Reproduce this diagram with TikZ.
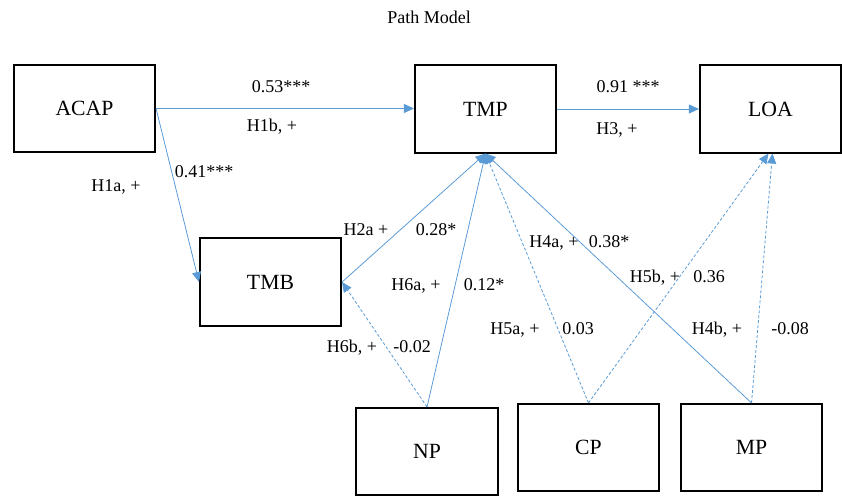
\documentclass[tikz,border=0pt]{standalone}
\usepackage{fontspec}
\setmainfont{Liberation Serif}
\usetikzlibrary{arrows.meta}
\definecolor{linkblue}{HTML}{5B9BD5}
\begin{document}
\begin{tikzpicture}[x=1pt,y=-1pt,
  box/.style={draw=black, line width=1.6pt, minimum width=141.5pt,
    minimum height=87.5pt, inner sep=0pt, font=\fontsize{21.7}{24}\selectfont},
  lbl/.style={anchor=base, inner sep=0pt, font=\fontsize{18}{20}\selectfont},
  link/.style={draw=linkblue, line width=0.8pt,
    -{Triangle[length=10pt,width=9pt]}},
  dashlink/.style={link, dash pattern=on 3pt off 2pt}]
\useasboundingbox (0,0) rectangle (842,495);

% title
\node[lbl] (title) at (429,24) {Path Model};

% constructs
\node[box] (ACAP) at (84.5,108.5) {ACAP};
\node[box] (TMP)  at (485.5,109)  {TMP};
\node[box] (LOA)  at (770.5,109)  {LOA};
\node[box] (TMB)  at (270.5,282)  {TMB};
\node[box] (NP)   at (427,451.5)  {NP};
\node[box] (CP)   at (588.5,447.5) {CP};
\node[box] (MP)   at (751.5,447.5) {MP};

% paths
\draw[link] (ACAP.east) -- (ACAP.east -| TMP.west);
\draw[link] (TMP.east) -- (TMP.east -| LOA.west);
\draw[link] (ACAP.east) -- (TMB.west);
\draw[link] (TMB.east) -- (TMP.south);
\draw[link] (NP.north) -- (TMP.south);
\draw[dashlink] (NP.north) -- (TMB.east);
\draw[dashlink] (CP.north) -- (TMP.south);
\draw[dashlink] (CP.north) -- ([xshift=-2pt]LOA.south);
\draw[link] (MP.north) -- (TMP.south);
\draw[dashlink] (MP.north) -- ([xshift=2pt]LOA.south);

% coefficients and hypotheses
\node[lbl] (c1b) at (281,92)  {0.53***};
\node[lbl] (h1b) at (272,131) {H1b, +};
\node[lbl] (c3)  at (628,92)  {0.91 ***};
\node[lbl] (h3)  at (617,134) {H3, +};
\node[lbl] (h1a) at (116,191) {H1a, +};
\node[lbl] (c1a) at (204,177) {0.41***};
\node[lbl] (h2a) at (366,235) {H2a +};
\node[lbl] (c2a) at (436,235) {0.28*};
\node[lbl] (h6a) at (416,290) {H6a, +};
\node[lbl] (c6a) at (484,290) {0.12*};
\node[lbl] (h6b) at (352,352) {H6b, +};
\node[lbl] (c6b) at (412,352) {-0.02};
\node[lbl] (h4a) at (554,247) {H4a, +};
\node[lbl] (c4a) at (609,247) {0.38*};
\node[lbl] (h5b) at (655,282) {H5b, +};
\node[lbl] (c5b) at (709,282) {0.36};
\node[lbl] (h5a) at (515,334) {H5a, +};
\node[lbl] (c5a) at (578,334) {0.03};
\node[lbl] (h4b) at (717,334) {H4b, +};
\node[lbl] (c4b) at (790,334) {-0.08};
\end{tikzpicture}
\end{document}
